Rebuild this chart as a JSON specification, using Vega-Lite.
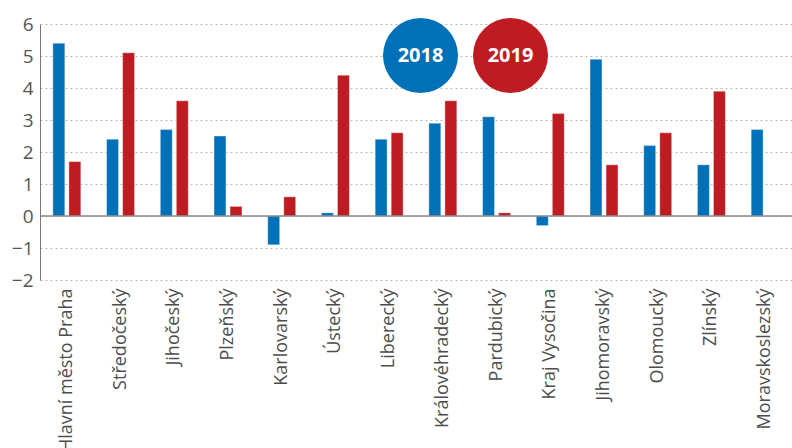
{
  "$schema": "https://vega.github.io/schema/vega-lite/v6.json",
  "width": 752,
  "height": 256,
  "autosize": {"type": "none"},
  "padding": {"left": 40, "top": 24, "right": 0, "bottom": 168},
  "config": {"view": {"stroke": null}, "font": "Open Sans"},
  "data": {
    "values": [
      {"region": "Hlavní město Praha", "year": "2018", "value": 5.4},
      {"region": "Hlavní město Praha", "year": "2019", "value": 1.7},
      {"region": "Středočeský", "year": "2018", "value": 2.4},
      {"region": "Středočeský", "year": "2019", "value": 5.1},
      {"region": "Jihočeský", "year": "2018", "value": 2.7},
      {"region": "Jihočeský", "year": "2019", "value": 3.6},
      {"region": "Plzeňský", "year": "2018", "value": 2.5},
      {"region": "Plzeňský", "year": "2019", "value": 0.3},
      {"region": "Karlovarský", "year": "2018", "value": -0.9},
      {"region": "Karlovarský", "year": "2019", "value": 0.6},
      {"region": "Ústecký", "year": "2018", "value": 0.1},
      {"region": "Ústecký", "year": "2019", "value": 4.4},
      {"region": "Liberecký", "year": "2018", "value": 2.4},
      {"region": "Liberecký", "year": "2019", "value": 2.6},
      {"region": "Královéhradecký", "year": "2018", "value": 2.9},
      {"region": "Královéhradecký", "year": "2019", "value": 3.6},
      {"region": "Pardubický", "year": "2018", "value": 3.1},
      {"region": "Pardubický", "year": "2019", "value": 0.1},
      {"region": "Kraj Vysočina", "year": "2018", "value": -0.3},
      {"region": "Kraj Vysočina", "year": "2019", "value": 3.2},
      {"region": "Jihomoravský", "year": "2018", "value": 4.9},
      {"region": "Jihomoravský", "year": "2019", "value": 1.6},
      {"region": "Olomoucký", "year": "2018", "value": 2.2},
      {"region": "Olomoucký", "year": "2019", "value": 2.6},
      {"region": "Zlínský", "year": "2018", "value": 1.6},
      {"region": "Zlínský", "year": "2019", "value": 3.9},
      {"region": "Moravskoslezský", "year": "2018", "value": 2.7}
    ]
  },
  "encoding": {
    "y": {
      "field": "value", "type": "quantitative",
      "scale": {"domain": [-2, 6], "nice": false},
      "axis": {"title": null, "values": [-2, -1, 0, 1, 2, 3, 4, 5, 6], "grid": true,
               "gridDash": [2, 3], "gridColor": "#b8b8b8", "domainColor": "#777",
               "labelOverlap": false,
               "ticks": false, "labelPadding": 7, "labelFontSize": 19, "labelColor": "#555"}
    }
  },
  "layer": [
    {
      "mark": {"type": "bar", "stroke": "white", "strokeOpacity": 0.35, "strokeWidth": 1},
      "encoding": {
        "x": {
          "field": "region", "type": "nominal", "sort": null,
          "scale": {"paddingInner": 0.48, "paddingOuter": 0.24},
          "axis": {"title": null, "labelAngle": -90, "domain": false, "ticks": false, "grid": false,
                   "labelPadding": 8, "labelFontSize": 18, "labelColor": "#4d4d4d", "labelLimit": 300}
        },
        "xOffset": {"field": "year", "type": "nominal", "scale": {"paddingInner": 0.256}},
        "color": {
          "field": "year", "type": "nominal",
          "scale": {"range": ["#0070b8", "#be1c22"]},
          "legend": {
            "orient": "none", "legendX": 343, "legendY": -6, "direction": "horizontal",
            "title": null, "symbolType": "circle", "symbolSize": 5625, "symbolStrokeWidth": 0,
            "symbolOpacity": 1, "labelColor": "white", "labelFontSize": 20, "labelFontWeight": "bold",
            "labelAlign": "center", "labelOffset": -37.5, "columnPadding": 15, "padding": 0
          }
        }
      }
    },
    {
      "data": {"values": [{"value": 0}]},
      "mark": {"type": "rule", "color": "#888", "strokeWidth": 1.5},
      "encoding": {}
    }
  ]
}
